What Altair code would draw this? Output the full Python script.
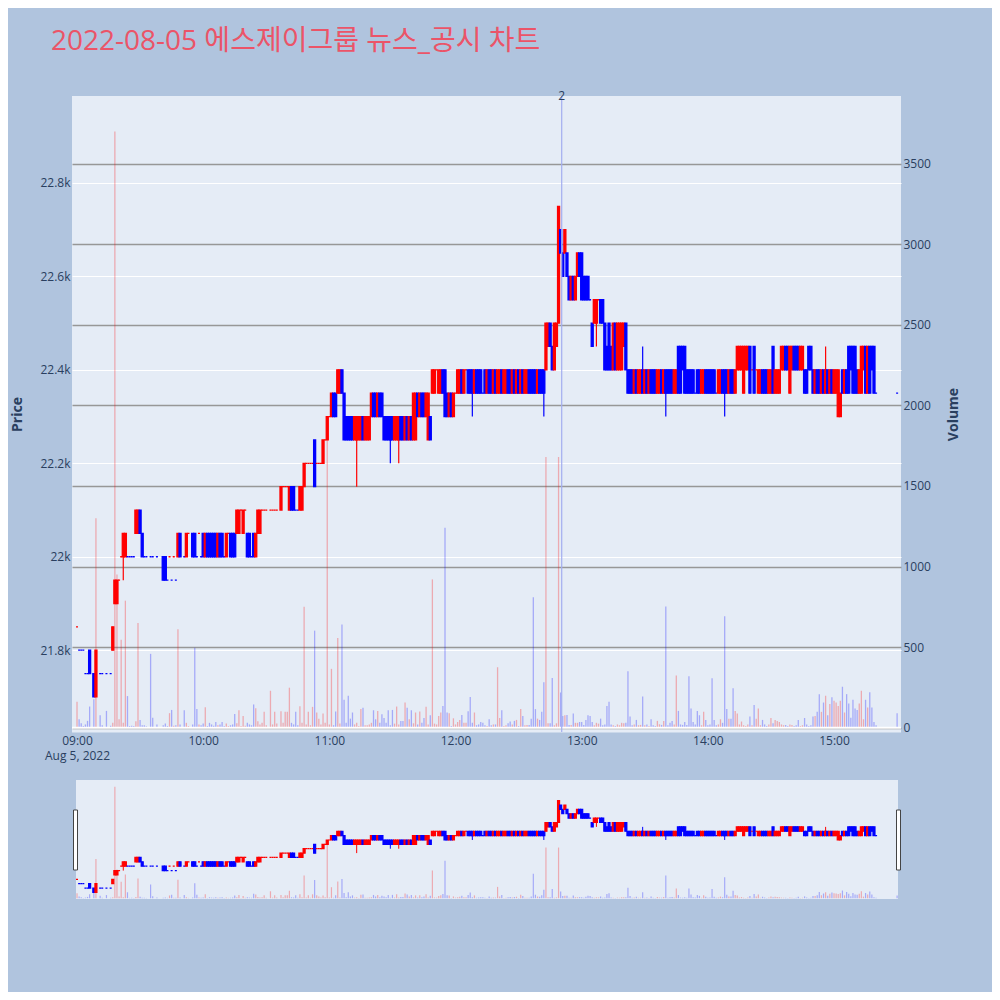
import altair as alt
import pandas as pd

# ---------------- data (one entry per minute from 09:00; None = no trade) -------------
OPEN = [
    21850, 21800, 21800, 21800, 21750, 21750, 21800, None, 21750, 21700,
    None, 21750, 21750, None, 21750, None, 21750, 21800, 21900, 21900,
    21950, 22000, 22000, 22000, 22000, 22000, 22000, 22000, 22050, 22050,
    22100, 22050, 22000, 22000, None, 22000, 22000, None, 22000, None,
    None, 22000, 22000, 21950, 22000, 21950, 22000, 21950, 22000, 22050,
    None, 22000, 22000, 22050, None, 22050, 22050, 22000, 22050, 22000,
    22050, 22000, 22050, 22050, 22050, 22050, 22050, 22000, 22050, 22050,
    22000, 22000, 22050, 22050, 22050, 22050, 22050, 22050, 22100, 22050,
    22100, 22050, 22050, 22000, 22050, 22000, 22050, 22050, 22100, 22100,
    22100, None, 22100, 22100, 22100, 22100, None, 22100, 22150, 22150,
    22150, 22100, 22150, 22150, 22100, 22100, 22100, 22100, 22150, 22200,
    22200, 22200, 22200, 22250, 22200, 22200, 22200, 22200, 22250, 22250,
    22300, 22300, 22350, 22350, 22350, 22350, 22400, 22350, 22300, 22300,
    22300, 22300, 22250, 22250, 22250, 22250, 22300, 22250, 22250, 22250,
    22300, 22350, 22350, 22300, 22350, 22350, 22300, 22300, 22300, 22300,
    22300, 22250, 22250, 22250, 22300, 22300, 22250, 22300, 22250, 22300,
    22250, 22250, 22350, 22300, 22350, 22350, 22300, 22250, 22300, 22350,
    22350, 22400, 22350, 22350, 22400, 22400, 22350, 22300, 22350, 22300,
    22350, 22350, 22350, 22400, 22350, 22400, 22400, 22400, 22400, 22350,
    22400, 22400, 22400, 22350, 22400, 22350, 22400, 22400, 22350, 22400,
    22350, 22350, 22400, 22350, 22350, 22400, 22400, 22350, 22400, 22350,
    22400, 22350, 22400, 22350, 22350, 22400, 22400, 22400, 22400, 22350,
    22400, 22400, 22400, 22400, 22450, 22500, 22450, 22400, 22450, 22500,
    22700, 22650, 22650, 22650, 22600, 22550, 22600, 22550, 22600, 22650,
    22650, 22600, 22600, 22600, 22550, 22500, 22500, 22500, 22550, 22550,
    22550, 22500, 22450, 22500, 22450, 22400, 22500, 22400, 22400, 22400,
    22450, 22500, 22400, 22400, 22400, 22350, 22400, 22350, 22350, 22400,
    22350, 22400, 22350, 22400, 22400, 22400, 22350, 22350, 22400, 22350,
    22400, 22400, 22400, 22400, 22350, 22350, 22450, 22450, 22450, 22450,
    22400, 22400, 22400, 22400, 22350, 22400, 22400, 22350, 22350, 22400,
    22400, 22400, 22400, 22400, 22350, 22350, 22350, 22400, 22400, 22400,
    22350, 22400, 22400, 22350, 22400, 22400, 22400, 22350, 22400, 22400,
    22450, 22400, 22450, 22400, 22350, 22350, 22400, 22400, 22400, 22350,
    22350, 22450, 22350, 22350, 22350, 22400, 22400, 22450, 22450, 22350,
    22400, 22450, 22450, 22450, 22400, 22400, 22400, 22400, 22450, 22450,
    22400, 22350, 22400, 22400, 22350, 22400, 22350, 22400, 22350, 22400,
    22350, 22350, 22300, 22300, 22400, 22350, 22400, 22450, 22450, 22450,
    22450, 22400, 22350, 22350, 22400, 22450, 22350, 22450, 22450, 22450,
    22350, None, None, None, None, None, None, None, None, None,
    22350,
]
CLOSE = [
    21850, 21800, 21800, 21800, 21750, 21750, 21750, None, 21700, 21800,
    None, 21750, 21750, None, 21750, None, 21750, 21850, 21950, 21950,
    21950, 22000, 22050, 22050, 22000, 22000, 22000, 22000, 22100, 22100,
    22050, 22000, 22000, 22000, None, 22000, 22000, None, 22000, None,
    None, 21950, 21950, 21950, 22000, 21950, 22000, 21950, 22050, 22000,
    None, 22000, 22050, 22050, None, 22000, 22000, 22000, 22050, 22000,
    22000, 22050, 22000, 22000, 22000, 22000, 22000, 22050, 22000, 22000,
    22000, 22050, 22050, 22000, 22000, 22000, 22100, 22100, 22100, 22100,
    22100, 22000, 22000, 22000, 22000, 22050, 22100, 22100, 22100, 22100,
    22100, None, 22100, 22100, 22100, 22100, None, 22150, 22150, 22150,
    22150, 22150, 22100, 22100, 22100, 22100, 22150, 22150, 22200, 22200,
    22200, 22200, 22200, 22150, 22200, 22200, 22200, 22250, 22250, 22300,
    22300, 22350, 22300, 22300, 22400, 22400, 22350, 22250, 22250, 22250,
    22250, 22250, 22300, 22300, 22300, 22300, 22250, 22300, 22300, 22300,
    22350, 22300, 22300, 22350, 22300, 22300, 22250, 22250, 22250, 22250,
    22250, 22300, 22300, 22300, 22250, 22250, 22300, 22250, 22300, 22250,
    22350, 22350, 22300, 22350, 22300, 22300, 22350, 22350, 22250, 22400,
    22400, 22400, 22400, 22400, 22350, 22300, 22300, 22350, 22300, 22350,
    22350, 22400, 22400, 22350, 22400, 22400, 22350, 22350, 22350, 22400,
    22350, 22350, 22350, 22350, 22350, 22400, 22350, 22350, 22400, 22350,
    22400, 22400, 22350, 22400, 22400, 22350, 22350, 22400, 22350, 22400,
    22350, 22400, 22350, 22400, 22400, 22350, 22350, 22350, 22350, 22400,
    22350, 22350, 22350, 22500, 22500, 22450, 22400, 22500, 22500, 22750,
    22650, 22600, 22700, 22600, 22550, 22600, 22550, 22600, 22650, 22600,
    22550, 22550, 22550, 22550, 22550, 22450, 22550, 22550, 22550, 22500,
    22500, 22400, 22400, 22400, 22400, 22500, 22400, 22500, 22500, 22500,
    22500, 22400, 22350, 22350, 22350, 22400, 22350, 22400, 22400, 22350,
    22400, 22350, 22400, 22350, 22350, 22350, 22400, 22400, 22350, 22400,
    22350, 22350, 22350, 22350, 22400, 22400, 22350, 22350, 22400, 22350,
    22350, 22350, 22350, 22350, 22350, 22350, 22350, 22400, 22400, 22350,
    22350, 22350, 22350, 22350, 22350, 22400, 22400, 22350, 22350, 22350,
    22400, 22350, 22350, 22400, 22450, 22450, 22450, 22450, 22450, 22450,
    22350, 22400, 22350, 22400, 22400, 22400, 22350, 22350, 22350, 22400,
    22400, 22350, 22400, 22400, 22400, 22450, 22450, 22400, 22400, 22450,
    22450, 22400, 22400, 22400, 22450, 22450, 22350, 22350, 22400, 22400,
    22350, 22400, 22350, 22350, 22400, 22350, 22400, 22350, 22400, 22350,
    22400, 22400, 22400, 22350, 22350, 22400, 22350, 22350, 22400, 22350,
    22350, 22350, 22400, 22450, 22450, 22350, 22450, 22350, 22400, 22350,
    22350, None, None, None, None, None, None, None, None, None,
    22350,
]
VOLUME = [
    160, 52, 27, 10, 20, 42, 131, None, 177, 1300,
    None, 77, 15, None, 104, None, 12, 30, 3700, 950,
    52, 546, 30, 788, 196, 10, 12, 10, 40, 650,
    48, 15, 15, 8, None, 458, 62, None, 20, None,
    None, 15, 25, 10, 90, 110, 12, 15, 610, 20,
    None, 108, 30, 10, None, 20, 496, 115, 20, 15,
    25, 127, 10, 30, 20, 12, 35, 15, 20, 35,
    10, 25, 10, 15, 20, 85, 27, 108, 10, 73,
    12, 30, 20, 15, 144, 121, 40, 20, 30, 98,
    15, None, 229, 20, 98, 25, None, 102, 30, 98,
    98, 248, 30, 20, 98, 15, 133, 30, 750, 20,
    98, 15, 129, 602, 94, 56, 20, 88, 30, 1785,
    20, 365, 15, 100, 556, 25, 640, 173, 30, 198,
    56, 94, 20, 30, 10, 115, 123, 15, 15, 20,
    30, 108, 52, 104, 30, 83, 60, 30, 108, 15,
    110, 25, 131, 20, 42, 42, 156, 123, 52, 108,
    27, 94, 20, 100, 30, 60, 129, 20, 77, 920,
    25, 20, 73, 94, 135, 1240, 94, 90, 10, 58,
    20, 35, 48, 79, 30, 30, 102, 190, 30, 94,
    15, 20, 35, 30, 15, 10, 52, 15, 20, 20,
    375, 60, 108, 10, 15, 27, 38, 20, 42, 48,
    10, 115, 73, 15, 17, 17, 56, 810, 115, 56,
    48, 98, 281, 1680, 27, 27, 308, 15, 27, 1680,
    218, 73, 77, 79, 17, 17, 88, 30, 30, 35,
    35, 17, 48, 77, 73, 35, 15, 30, 25, 56,
    15, 20, 135, 160, 20, 15, 10, 20, 15, 30,
    27, 30, 350, 69, 15, 20, 48, 15, 17, 194,
    15, 20, 10, 52, 15, 10, 42, 21, 17, 42,
    752, 15, 31, 42, 20, 323, 104, 20, 17, 35,
    17, 319, 119, 35, 20, 104, 77, 15, 98, 48,
    15, 20, 306, 48, 15, 20, 52, 30, 692, 115,
    56, 56, 244, 104, 88, 20, 38, 15, 10, 20,
    69, 15, 140, 56, 119, 15, 48, 20, 10, 20,
    60, 27, 48, 42, 35, 20, 15, 17, 10, 20,
    17, 10, 15, 48, 10, 15, 60, 20, 10, 15,
    69, 73, 98, 208, 98, 156, 198, 77, 146, 188,
    167, 156, 135, 167, 254, 94, 208, 150, 62, 173,
    119, 110, 150, 229, 52, 173, 125, 219, 125, 35,
    15, None, None, None, None, None, None, None, None, None,
    90,
]
# extra wick extremes (minute -> price)
WICK_HIGH = {269: 22450, 356: 22450}
WICK_LOW = {22: 21950, 133: 22150, 149: 22200, 153: 22200, 188: 22300,
            222: 22300, 247: 22450, 280: 22300, 308: 22300}

NEWS_TIMES = ["2022-08-05T12:50:30"]
NEWS_LABELS = ["2"]

TITLE = "2022-08-05 에스제이그룹 뉴스_공시 차트"
PRICE_TICKS = [21800, 22000, 22200, 22400, 22600, 22800]
VOLUME_TICKS = [0, 500, 1000, 1500, 2000, 2500, 3000, 3500]

# ---------------- build table ----------------
rows = []
prev_c = None
prev_dir = "up"
for m, (o, c, v) in enumerate(zip(OPEN, CLOSE, VOLUME)):
    if o is None:
        continue
    hi = max(o, c, WICK_HIGH.get(m, o))
    lo = min(o, c, WICK_LOW.get(m, o))
    if c > o:
        d = "up"
    elif c < o:
        d = "down"
    elif prev_c is None or c > prev_c:
        d = "up"
    elif c < prev_c:
        d = "down"
    else:
        d = prev_dir
    prev_c, prev_dir = c, d
    rows.append({
        "t": f"2022-08-05T{9 + m // 60:02d}:{m % 60:02d}:00",
        "open": o, "close": c, "high": hi, "low": lo,
        "vol": v, "zero": 0, "dir": d,
    })
df = pd.DataFrame(rows)
news = pd.DataFrame({"t": NEWS_TIMES, "label": NEWS_LABELS})
dummy = pd.DataFrame({"a": [0]})

W, H = 829, 803
MAIN_H = 636
SL_TOP, SL_BOT = 684, 803
TXT = "#2a3f5f"
FONT = "Open Sans"

xscale = alt.Scale(
    domain=[alt.DateTime(year=2022, month=8, date=5, hours=8, minutes=57, seconds=37),
            alt.DateTime(year=2022, month=8, date=5, hours=15, minutes=31, seconds=51)],
    nice=False, padding=0)
xaxis = alt.Axis(
    values=[alt.DateTime(year=2022, month=8, date=5, hours=h) for h in range(9, 16)],
    labelExpr="hours(datum.value) == 9 ? ['09:00', 'Aug 5, 2022'] : timeFormat(datum.value, '%H:%M')",
    grid=False, domain=False, ticks=False, labelPadding=3, labelLineHeight=15.5,
    offset=-(H - MAIN_H), title=None, zindex=1, labelFlush=False, labelOverlap=False,
)
X = alt.X("t:T", scale=xscale, axis=xaxis)
colscale = alt.Scale(domain=["up", "down"], range=["#ff0000", "#0000ff"])
COL = alt.Color("dir:N", scale=colscale, legend=None)
STK = alt.Stroke("dir:N", scale=colscale, legend=None)

p_main = alt.Scale(domain=[21625, 22986], range=[MAIN_H, 0], nice=False, zero=False)
v_main = alt.Scale(domain=[-27, 3920], range=[MAIN_H, 0], nice=False)
p_sl = alt.Scale(domain=[21625, 22986], range=[SL_BOT, SL_TOP], nice=False, zero=False)
v_sl = alt.Scale(domain=[-27, 3920], range=[SL_BOT, SL_TOP], nice=False)

price_axis = alt.Axis(
    orient="left", values=PRICE_TICKS,
    labelExpr="format(datum.value / 1000, '.1~f') + 'k'",
    grid=True, gridColor="white", gridWidth=1, domain=False, ticks=False, labelPadding=2,
    title="Price", titleX=-55, titleY=MAIN_H / 2, titleAngle=270, titleAlign="center",
    titleBaseline="middle", titleFontSize=14, titleFontWeight="bold",
)
vol_axis = alt.Axis(
    orient="right", values=VOLUME_TICKS, format="d",
    grid=True, gridColor="#979797", gridWidth=1.5, domain=False, ticks=False, labelPadding=2,
    title="Volume", titleX=52, titleY=MAIN_H / 2, titleAngle=270, titleAlign="center",
    titleBaseline="middle", titleFontSize=14, titleFontWeight="bold",
)

base = alt.Chart(df)

# decorations: gap between plot and range slider, slider edges
gap = alt.Chart(dummy).mark_rect(color="#b0c4de").encode(
    x=alt.value(0), x2=alt.value(W), y=alt.value(MAIN_H + 0.5), y2=alt.value(SL_TOP))
sl_left = alt.Chart(dummy).mark_rect(color="#b0c4de").encode(
    x=alt.value(0), x2=alt.value(4), y=alt.value(SL_TOP), y2=alt.value(SL_BOT))
sl_right = alt.Chart(dummy).mark_rect(color="#b0c4de").encode(
    x=alt.value(826), x2=alt.value(W), y=alt.value(SL_TOP), y2=alt.value(SL_BOT))

# main volume
vol_bars = base.mark_rule(strokeWidth=1.3, opacity=0.28).encode(
    x=X, y=alt.Y("vol:Q", scale=v_main, axis=vol_axis), y2="zero:Q", color=COL)
zero_line = alt.Chart(dummy).mark_rule(color="white", strokeWidth=2).encode(
    y=alt.Y("a:Q", scale=v_main, axis=vol_axis))
main_vol = alt.layer(vol_bars, zero_line)

# main candles
wick = base.mark_rule(strokeWidth=1.2).encode(
    x=X, y=alt.Y("low:Q", scale=p_main, axis=price_axis), y2="high:Q", color=COL)
body = base.mark_bar(size=2, strokeWidth=1.3).encode(
    x=X, y=alt.Y("open:Q", scale=p_main, axis=price_axis), y2="close:Q", color=COL, stroke=STK)
vline = alt.Chart(news).mark_rule(color="#a3adf0", strokeWidth=1.2).encode(
    x=X, y=alt.value(0), y2=alt.value(MAIN_H))
vtext = alt.Chart(news).mark_text(baseline="middle", fontSize=12, color=TXT, font=FONT).encode(
    x=X, y=alt.value(0), text="label:N")
main_price = alt.layer(wick, body, vline, vtext)

# range slider
sl_bg = alt.Chart(dummy).mark_rect(color="#e5ecf6").encode(
    x=alt.value(4), x2=alt.value(826), y=alt.value(SL_TOP), y2=alt.value(SL_BOT))
sl_vol = base.mark_rule(strokeWidth=1.2, opacity=0.28).encode(
    x=X, y=alt.Y("vol:Q", scale=v_sl, axis=None), y2="zero:Q", color=COL)
sl_wick = base.mark_rule(strokeWidth=1).encode(
    x=X, y=alt.Y("low:Q", scale=p_sl, axis=None), y2="high:Q", color=COL)
sl_body = base.mark_bar(size=2, strokeWidth=1.2).encode(
    x=X, y=alt.Y("open:Q", scale=p_sl, axis=None), y2="close:Q", color=COL, stroke=STK)
sl_price = alt.layer(sl_wick, sl_body)
h_left = alt.Chart(dummy).mark_rect(fill="white", stroke="#444444", strokeWidth=1).encode(
    x=alt.value(1.5), x2=alt.value(5.5), y=alt.value(714), y2=alt.value(774))
h_right = alt.Chart(dummy).mark_rect(fill="white", stroke="#444444", strokeWidth=1).encode(
    x=alt.value(824.5), x2=alt.value(828.5), y=alt.value(714), y2=alt.value(774))

chart = alt.layer(
    gap, sl_left, sl_right, sl_bg,
    main_vol, main_price, sl_vol, sl_price, h_left, h_right,
).resolve_scale(y="independent").properties(
    width=W, height=H,
    title=alt.TitleParams(
        TITLE, anchor="start", frame="group", dx=-21, offset=12,
        fontSize=28, fontWeight="normal", color="#eb5468",
        font="'Open Sans', 'Noto Sans CJK KR', sans-serif", baseline="alphabetic",
    ),
    autosize=alt.AutoSizeParams(type="none"),
    padding={"left": 64, "top": 88, "right": 91, "bottom": 93},
).configure(background="#b0c4de").configure_view(fill="#e5ecf6", strokeWidth=0).configure_axis(
    labelFont=FONT, labelColor=TXT, labelFontSize=12, titleFont=FONT, titleColor=TXT,
)

chart.save("out.html", embed_options={"renderer": "svg", "actions": False})
